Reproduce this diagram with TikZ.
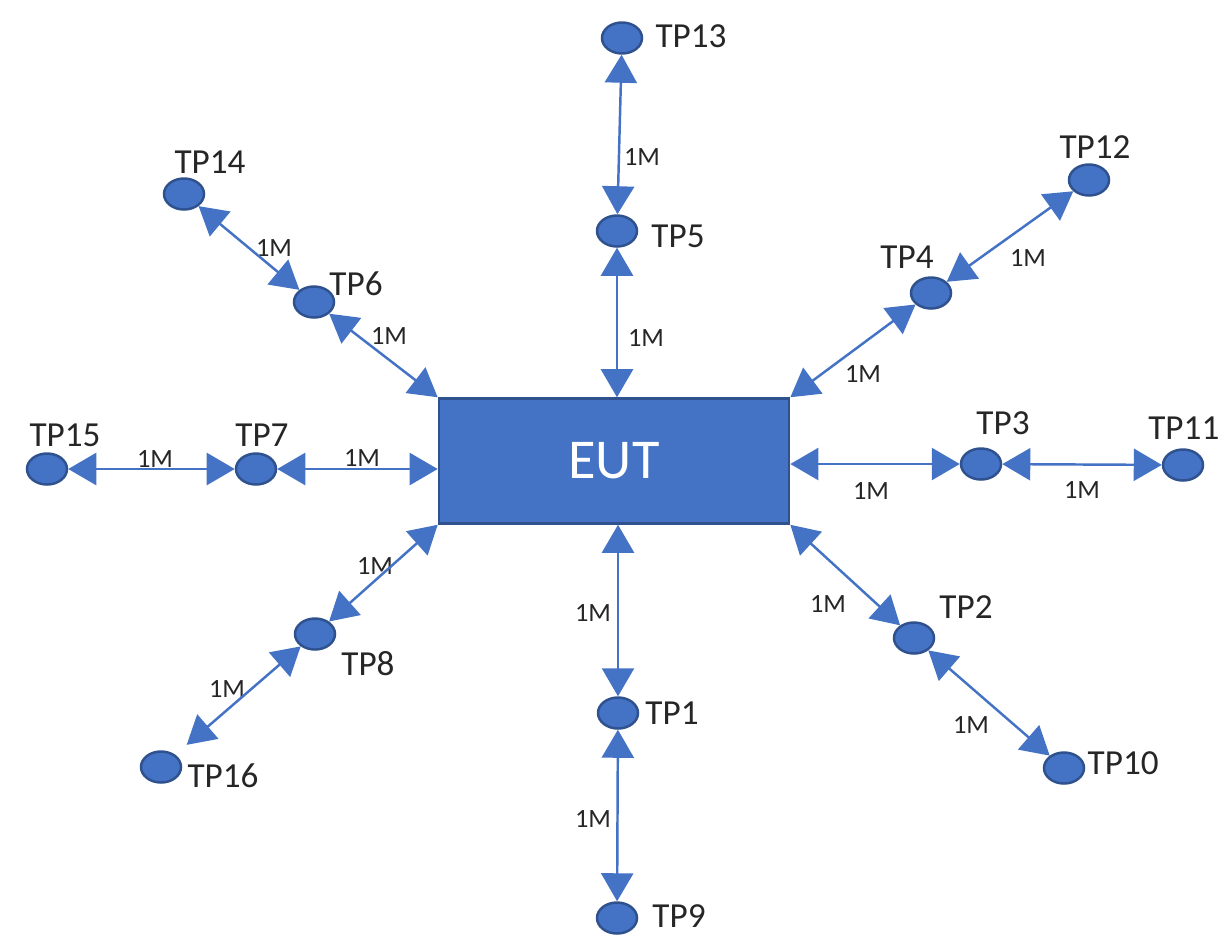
\documentclass[tikz,border=0pt]{standalone}
\usepackage{fontspec}
\setmainfont{Carlito}
\usetikzlibrary{arrows.meta, shapes.geometric}
\definecolor{officeblue}{HTML}{4472C4}
\definecolor{darkblue}{HTML}{2F528F}

\begin{document}
\begin{tikzpicture}[x=0.01cm, y=-0.01cm]
\tikzstyle{point} = [ellipse, draw=darkblue, fill=officeblue, line width=0.7pt, minimum width=0.4cm, minimum height=0.31cm, inner sep=0pt]
\tikzstyle{box} = [rectangle, draw=darkblue, fill=officeblue, line width=0.7pt, minimum width=3.5cm, minimum height=1.25cm, text=white, font=\fontsize{16}{19}\selectfont]
\tikzstyle{tp} = [font=\fontsize{10}{12}\selectfont, text=black!85, inner sep=0pt]
\tikzstyle{dist} = [font=\fontsize{7.5}{9}\selectfont, text=black!85, inner sep=0pt]
\tikzstyle{link} = [{Triangle[length=0.28cm, width=0.32cm]}-{Triangle[length=0.28cm, width=0.32cm]}, draw=officeblue, fill=officeblue, line width=0.7pt]
\clip (0,0) rectangle (1222,936);
\fill[white] (0,0) rectangle (1222,936);
% centre box
\node[box] (eut) at (614,461) {EUT};
% test points
\node[point] (tp1) at (618,713) {};
\node[point] (tp2) at (914,638) {};
\node[point] (tp3) at (981,464) {};
\node[point] (tp4) at (931,293) {};
\node[point] (tp5) at (617,231) {};
\node[point] (tp6) at (314,302) {};
\node[point] (tp7) at (256,469) {};
\node[point] (tp8) at (315,634) {};
\node[point] (tp9) at (617,918) {};
\node[point] (tp10) at (1064,768) {};
\node[point] (tp11) at (1183,465) {};
\node[point] (tp12) at (1089,180) {};
\node[point] (tp13) at (622,38) {};
\node[point] (tp14) at (184,194) {};
\node[point] (tp15) at (47,469) {};
\node[point] (tp16) at (161,767) {};
% names
\node[tp] (l1) at (672,713) {TP1};
\node[tp] (l2) at (966,607) {TP2};
\node[tp] (l3) at (1003,423) {TP3};
\node[tp] (l4) at (907,257) {TP4};
\node[tp] (l5) at (678,236) {TP5};
\node[tp] (l6) at (356,284) {TP6};
\node[tp] (l7) at (262,435) {TP7};
\node[tp] (l8) at (368,664) {TP8};
\node[tp] (l9) at (679,916) {TP9};
\node[tp, anchor=west] (l10) at (1087,763) {TP10};
\node[tp, anchor=east] (l11) at (1220,428) {TP11};
\node[tp] (l12) at (1095,147) {TP12};
\node[tp] (l13) at (691,36) {TP13};
\node[tp] (l14) at (210,162) {TP14};
\node[tp] (l15) at (65,435) {TP15};
\node[tp] (l16) at (223,776) {TP16};
% distances
\node[dist] (m1) at (593,613) {1M};
\node[dist] (m2) at (828,604) {1M};
\node[dist] (m3) at (871,491) {1M};
\node[dist] (m4) at (863,374) {1M};
\node[dist] (m5) at (646,338) {1M};
\node[dist] (m6) at (389,336) {1M};
\node[dist] (m7) at (362,458) {1M};
\node[dist] (m8) at (375,566) {1M};
\node[dist] (m9) at (593,819) {1M};
\node[dist] (m10) at (971,725) {1M};
\node[dist] (m11) at (1082,490) {1M};
\node[dist] (m12) at (1028,258) {1M};
\node[dist] (m13) at (642,157) {1M};
\node[dist] (m14) at (274,248) {1M};
\node[dist] (m15) at (155,459) {1M};
\node[dist] (m16) at (227,689) {1M};
% connectors
\draw[link] (tp13)--(tp5);
\draw[link] (tp5)--(tp5 |- eut.north);
\draw[link] (tp14)--(tp6);
\draw[link] (tp6)--(eut.north west);
\draw[link] (tp12)--(tp4);
\draw[link] (tp4)--(eut.north east);
\draw[link] (tp15)--(tp7);
\draw[link] (tp7)--(tp7 -| eut.west);
\draw[link] (tp3 -| eut.east)--(tp3);
\draw[link] (tp3)--(tp11);
\draw[link] (eut.south west)--(tp8);
\draw[link, shorten >=0.15cm] (tp8)--(tp16);
\draw[link] (tp1 |- eut.south)--(tp1);
\draw[link] (tp1)--(tp9);
\draw[link] (eut.south east)--(tp2);
\draw[link] (tp2)--(tp10);
\end{tikzpicture}
\end{document}
